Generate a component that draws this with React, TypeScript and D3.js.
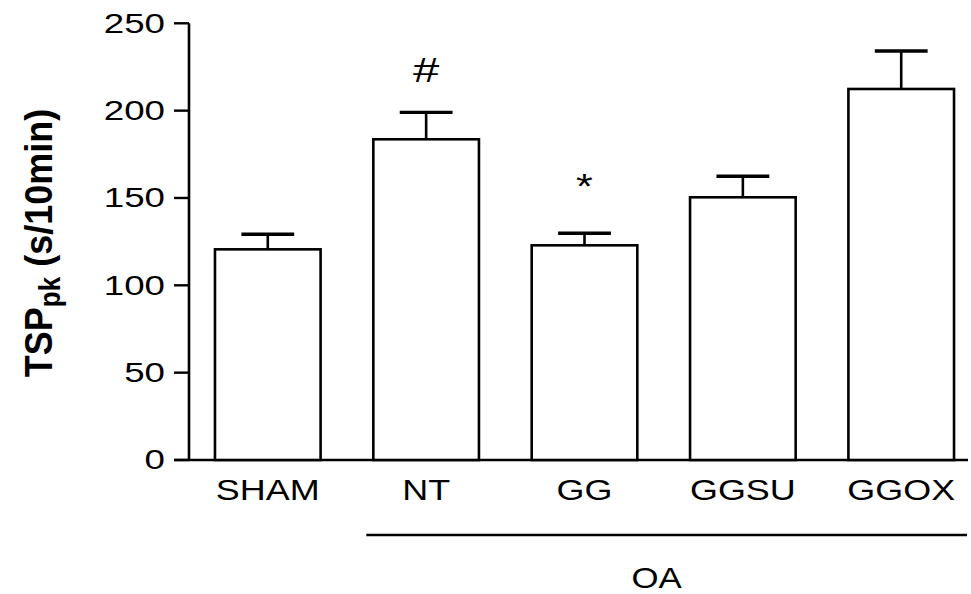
import React, { useMemo } from 'react';
import * as d3 from 'd3';

const WIDTH = 971;
const HEIGHT = 594;

// groups and values (mean, SEM)
const groups = ['SHAM', 'NT', 'GG', 'GGSU', 'GGOX'];
const means = [120.6, 183.6, 122.9, 150.4, 212.4];
const errors = [8.6, 15.4, 6.9, 12.0, 21.7];
const marks = ['', '#', '*', '', ''];
const yTicks = [0, 50, 100, 150, 200, 250];
const bracketGroups = ['NT', 'GGOX'];
const bracketLabel = 'OA';

const FONT = '"Liberation Sans", Arial, Helvetica, sans-serif';

const App = () => {
  const y = useMemo(() => d3.scaleLinear().domain([0, 250]).range([460, 23.3]), []);
  const x = useMemo(
    () => d3.scaleBand<string>().domain(groups).range([189, 980]).paddingInner(0.333).paddingOuter(0.164),
    []
  );
  const bw = x.bandwidth();
  const axisX = 189;
  const tickLen = 15;

  // bracket under the OA groups
  const bx0 = (x(bracketGroups[0]) as number) - 7;
  const bx1 = (x(bracketGroups[1]) as number) + bw + 13;

  return (
    <svg
      width={WIDTH}
      height={HEIGHT}
      style={{ position: 'absolute', left: 0, top: 0, background: '#fff' }}
      fontFamily={FONT}
    >
      <rect width={WIDTH} height={HEIGHT} fill="#fff" />
      {/* y axis */}
      <line x1={axisX} x2={axisX} y1={y(250)} y2={y(0)} stroke="#000" strokeWidth={2.6} />
      {yTicks.map((t) => (
        <g key={t}>
          <line x1={axisX - tickLen} x2={axisX} y1={y(t)} y2={y(t)} stroke="#000" strokeWidth={2.4} />
          <text
            transform={`translate(${axisX - tickLen - 9},${y(t)}) scale(1.36,1)`}
            textAnchor="end"
            dominantBaseline="central"
            fontSize={27}
            fill="#000"
          >
            {t}
          </text>
        </g>
      ))}
      {/* x axis */}
      <line x1={axisX - tickLen} x2={968} y1={y(0)} y2={y(0)} stroke="#000" strokeWidth={2.6} />

      {/* bars */}
      {groups.map((g, i) => {
        const x0 = x(g) as number;
        const cx = x0 + bw / 2;
        const top = y(means[i]);
        const cap = y(means[i] + errors[i]);
        return (
          <g key={g}>
            <line x1={cx} x2={cx} y1={top} y2={cap} stroke="#000" strokeWidth={2.6} />
            <line x1={cx - bw / 4} x2={cx + bw / 4} y1={cap} y2={cap} stroke="#000" strokeWidth={3.4} />
            <rect
              x={x0}
              y={top}
              width={bw}
              height={y(0) - top}
              fill="#fff"
              stroke="#000"
              strokeWidth={2.6}
            />
            <text
              transform={`translate(${cx},500) scale(1.24,1)`}
              textAnchor="middle"
              fontSize={29}
              fill="#000"
            >
              {g}
            </text>
            {marks[i] === '#' && (
              <text
                transform={`translate(${cx},81.5) scale(1.35,1)`}
                textAnchor="middle"
                fontSize={35}
                fill="#000"
              >
                #
              </text>
            )}
            {marks[i] === '*' && (
              <text
                transform={`translate(${cx},198) scale(1.2,1)`}
                textAnchor="middle"
                fontSize={36}
                fill="#000"
              >
                *
              </text>
            )}
          </g>
        );
      })}

      {/* OA bracket */}
      <line x1={bx0} x2={bx1} y1={535} y2={535} stroke="#000" strokeWidth={2.6} />
      <text
        transform={`translate(${(bx0 + bx1) / 2 - 10},588) scale(1.2,1)`}
        textAnchor="middle"
        fontSize={29}
        fill="#000"
      >
        {bracketLabel}
      </text>

      {/* y axis title */}
      <text
        transform={`translate(52,243) scale(1.1,1) rotate(-90)`}
        textAnchor="middle"
        fontSize={36}
        fontWeight="bold"
        fill="#000"
      >
        TSP
        <tspan fontSize={26} dy={7}>
          pk
        </tspan>
        <tspan dy={-7}> (s/10min)</tspan>
      </text>
    </svg>
  );
};

export default App;
